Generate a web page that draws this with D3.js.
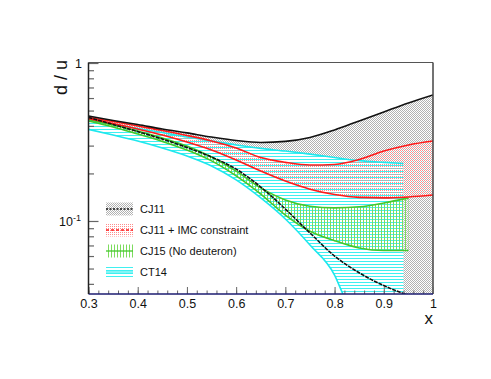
<!DOCTYPE html>
<html>
<head>
<meta charset="utf-8">
<script src="https://cdn.jsdelivr.net/npm/d3@7"></script>
<style>
  body { margin: 0; background: #fff; }
  svg { display: block; font-family: "Liberation Sans", Arial, sans-serif; }
</style>
</head>
<body>
<div id="chart"></div>
<script>
// d/u ratio bands vs x
var xs = [0.3, 0.35, 0.4, 0.45, 0.5, 0.55, 0.6, 0.65, 0.7, 0.75, 0.8, 0.85, 0.9, 0.95, 1.0];
var cj11Hi = [0.462, 0.433, 0.408, 0.382, 0.361, 0.340, 0.323, 0.314, 0.319, 0.338, 0.377, 0.430, 0.490, 0.558, 0.627];
var cj11Lo = [0.452, 0.408, 0.368, 0.330, 0.292, 0.254, 0.213, 0.164, 0.119, 0.084, 0.060, 0.047, 0.039, 0.034, 0.0316];
var imcHi = [0.452, 0.426, 0.399, 0.374, 0.348, 0.321, 0.290, 0.252, 0.235, 0.226, 0.228, 0.245, 0.277, 0.303, 0.321];
var imcLo = [0.445, 0.414, 0.382, 0.350, 0.316, 0.281, 0.243, 0.207, 0.179, 0.159, 0.147, 0.141, 0.140, 0.142, 0.146];

var cj15X = [0.3, 0.35, 0.4, 0.45, 0.5, 0.55, 0.6, 0.65, 0.7, 0.75, 0.8, 0.85, 0.9, 0.95];
var cj15Hi = [0.439, 0.405, 0.371, 0.335, 0.298, 0.254, 0.207, 0.162, 0.136, 0.124, 0.121, 0.123, 0.130, 0.140];
var cj15Lo = [0.430, 0.394, 0.355, 0.319, 0.281, 0.240, 0.193, 0.148, 0.109, 0.086, 0.075, 0.0675, 0.065, 0.065];

var ct14X = [0.3, 0.35, 0.4, 0.45, 0.5, 0.55, 0.6, 0.65, 0.7, 0.75, 0.8, 0.82, 0.85, 0.9, 0.94];
var ct14Hi = [0.433, 0.408, 0.385, 0.363, 0.340, 0.321, 0.303, 0.288, 0.277, 0.265, 0.252, 0.247, 0.241, 0.235, 0.231];
var ct14Lo = [0.380, 0.350, 0.321, 0.290, 0.258, 0.223, 0.182, 0.140, 0.103, 0.0705, 0.0455, 0.033, 0.025, 0.02, 0.02];

var xTicks = [0.3, 0.4, 0.5, 0.6, 0.7, 0.8, 0.9, 1.0];
var xTickLabels = ["0.3", "0.4", "0.5", "0.6", "0.7", "0.8", "0.9", "1"];
var xMinor = d3.range(15, 50).map(function(i) { return i / 50; });
var yMinor = [0.04, 0.05, 0.06, 0.07, 0.08, 0.09, 0.2, 0.3, 0.4, 0.5, 0.6, 0.7, 0.8, 0.9];
var legendLabels = ["CJ11", "CJ11 + IMC constraint", "CJ15 (No deuteron)", "CT14"];

var svg = d3.select("#chart").append("svg")
    .attr("width", 491)
    .attr("height", 379);

var x = d3.scaleLinear().domain([0.3, 1]).range([88.5, 433]);
var y = d3.scaleLog().domain([0.0345, 1]).range([294, 63]);

var defs = svg.append("defs");

defs.append("clipPath").attr("id", "frame")
    .append("rect")
    .attr("x", 88.5).attr("y", 63)
    .attr("width", 344.5).attr("height", 231);

function pattern(id, w, h, rects, bg)
{
    var p = defs.append("pattern")
        .attr("id", id)
        .attr("patternUnits", "userSpaceOnUse")
        .attr("width", w).attr("height", h);
    if (bg)
        p.append("rect").attr("width", w).attr("height", h).attr("fill", bg);
    rects.forEach(function(r) {
        p.append("rect")
            .attr("x", r[0]).attr("y", r[1])
            .attr("width", r[2]).attr("height", r[3])
            .attr("fill", r[4])
            .attr("shape-rendering", "crispEdges");
    });
}

pattern("pGray", 2, 2, [[0, 0, 1, 1, "#b2b2b2"], [1, 1, 1, 1, "#b2b2b2"]]);
pattern("pCyan", 4, 3, [[0, 0, 4, 1, "#3ff0f0"]], "#fff");
pattern("pRed", 2, 2, [[0, 0, 1, 1, "#ff8c8c"]]);
pattern("pGreen", 3, 4, [[0, 0, 1, 4, "#7ddc5e"]]);

function zip(xv, hi, lo)
{
    return xv.map(function(v, i) { return { x: v, hi: hi[i], lo: lo[i] }; });
}

var cj11 = zip(xs, cj11Hi, cj11Lo);
var imc = zip(xs, imcHi, imcLo);
var cj15 = zip(cj15X, cj15Hi, cj15Lo);
var ct14 = zip(ct14X, ct14Hi, ct14Lo);

var area = d3.area()
    .x(function(d) { return x(d.x); })
    .y0(function(d) { return y(d.lo); })
    .y1(function(d) { return y(d.hi); })
    .curve(d3.curveMonotoneX);

function line(key)
{
    return d3.line()
        .x(function(d) { return x(d.x); })
        .y(function(d) { return y(d[key]); })
        .curve(d3.curveMonotoneX);
}

var plot = svg.append("g").attr("clip-path", "url(#frame)");

plot.append("path").datum(cj11).attr("d", area).attr("fill", "url(#pGray)");
plot.append("path").datum(ct14).attr("d", area).attr("fill", "url(#pCyan)");
plot.append("path").datum(imc).attr("d", area).attr("fill", "url(#pRed)");
plot.append("path").datum(cj15).attr("d", area).attr("fill", "url(#pGreen)");

var bands = [
    { data: ct14, color: "#1ee8ee" },
    { data: cj15, color: "#44c82c" },
    { data: imc, color: "#ff1a1a" },
    { data: cj11, color: "#111" }
];

bands.forEach(function(b) {
    ["hi", "lo"].forEach(function(k) {
        plot.append("path").datum(b.data)
            .attr("d", line(k))
            .attr("fill", "none")
            .attr("stroke", b.color)
            .attr("stroke-width", 1.6)
            .attr("stroke-dasharray", (b.data === cj11 && k === "lo") ? "4,1" : null);
    });
});

// frame
svg.append("line").attr("x1", 88.5).attr("x2", 433).attr("y1", 62.5).attr("y2", 62.5)
    .attr("stroke", "#555").attr("stroke-width", 1.2);
svg.append("line").attr("x1", 433).attr("x2", 433).attr("y1", 62.5).attr("y2", 294)
    .attr("stroke", "#444").attr("stroke-width", 1.5);

// x axis (ticks point inward)
var xAxisMinor = d3.axisBottom(x).tickValues(xMinor).tickSize(-3.5).tickFormat("");
var xAxis = d3.axisBottom(x).tickValues(xTicks).tickSize(-7).tickPadding(5.5)
    .tickFormat(function(d, i) { return xTickLabels[i]; });

var gxm = svg.append("g").attr("transform", "translate(0,294)").call(xAxisMinor);
var gx = svg.append("g").attr("transform", "translate(0,294)").call(xAxis);
[gxm, gx].forEach(function(g) {
    g.select(".domain").remove();
    g.selectAll(".tick line").attr("stroke", "#666").attr("stroke-width", 1);
});
gx.selectAll(".tick text").attr("font-size", 12.5).attr("fill", "#111")
    .attr("font-family", "Liberation Sans, Arial, sans-serif");
svg.append("line").attr("x1", 88.5).attr("x2", 433).attr("y1", 294).attr("y2", 294)
    .attr("stroke", "#1c1c70").attr("stroke-width", 1.6);

// y axis (log)
var yAxisMinor = d3.axisLeft(y).tickValues(yMinor).tickSize(-5.5).tickFormat("");
var yAxis = d3.axisLeft(y).tickValues([0.1, 1]).tickSize(-10).tickFormat("");
var gym = svg.append("g").attr("transform", "translate(88.5,0)").call(yAxisMinor);
var gy = svg.append("g").attr("transform", "translate(88.5,0)").call(yAxis);
[gym, gy].forEach(function(g) {
    g.select(".domain").remove();
    g.selectAll(".tick line").attr("stroke", "#666").attr("stroke-width", 1.2);
});
svg.append("line").attr("x1", 88.5).attr("x2", 88.5).attr("y1", 62.5).attr("y2", 294)
    .attr("stroke", "#222").attr("stroke-width", 1.5);

svg.append("text")
    .attr("x", 82).attr("y", y(1) + 4.5)
    .attr("text-anchor", "end").attr("font-size", 12.5).attr("fill", "#111")
    .text("1");

var t = svg.append("text")
    .attr("x", 81).attr("y", y(0.1) + 5.5)
    .attr("text-anchor", "end").attr("font-size", 12.5).attr("fill", "#111");
t.append("tspan").text("10");
t.append("tspan").attr("dy", -5).attr("font-size", 9).text("-1");

// axis titles
svg.append("text")
    .attr("transform", "translate(66.5,60) rotate(-90)")
    .attr("text-anchor", "end").attr("font-size", 18).attr("fill", "#111")
    .text("d / u");

svg.append("text")
    .attr("x", 433).attr("y", 323.5)
    .attr("text-anchor", "end").attr("font-size", 17).attr("fill", "#111")
    .text("x");

// legend
var legendFills = ["url(#pGray)", "url(#pRed)", "url(#pGreen)", "url(#pCyan)"];
var legendLines = [
    { color: "#111", dash: "2,1.5" },
    { color: "#ff1a1a", dash: "3,2" },
    { color: "#44c82c", dash: null },
    { color: "#3ff0f0", dash: null }
];

var leg = svg.append("g");
legendLabels.forEach(function(label, i) {
    var cy = 209 + i * 21;
    leg.append("rect")
        .attr("x", 106).attr("y", cy - 6.5)
        .attr("width", 27).attr("height", 13)
        .attr("fill", legendFills[i]);
    leg.append("line")
        .attr("x1", 106).attr("x2", 133)
        .attr("y1", cy).attr("y2", cy)
        .attr("stroke", legendLines[i].color)
        .attr("stroke-width", 1.3)
        .attr("stroke-dasharray", legendLines[i].dash);
    leg.append("text")
        .attr("x", 140).attr("y", cy + 4.3)
        .attr("font-size", 11).attr("fill", "#111")
        .text(label);
});
</script>
</body>
</html>
